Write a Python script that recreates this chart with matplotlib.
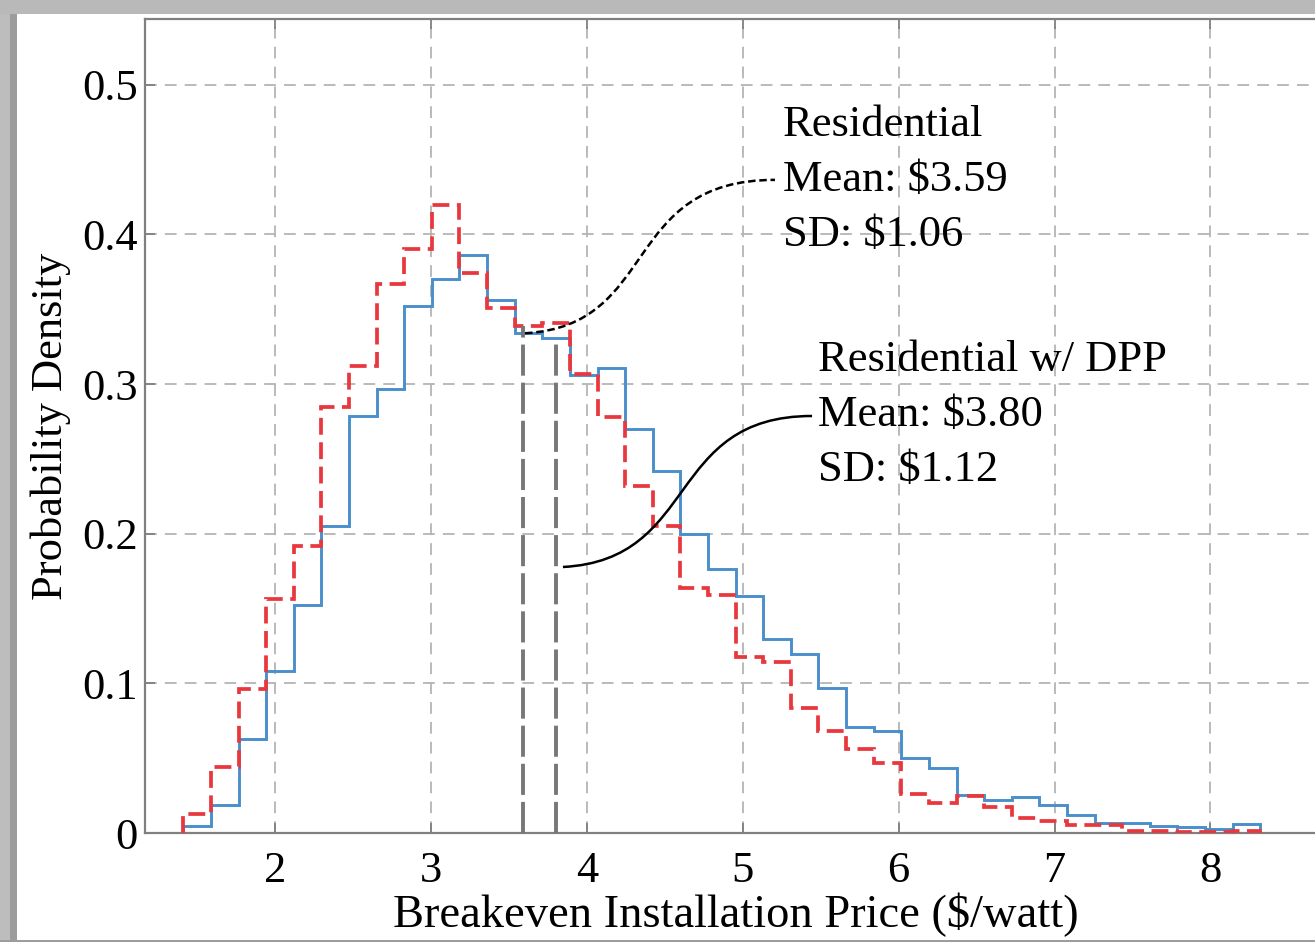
import numpy as np
import matplotlib
matplotlib.use("Agg")
from matplotlib import pyplot as plt
from matplotlib.path import Path
from matplotlib.patches import PathPatch, Rectangle

plt.rcParams['font.family'] = ['Liberation Serif', 'DejaVu Serif']

# histogram bins ($/watt)
bin_lo = 1.412
bin_hi = 8.32
n_bins = 39

# probability density per bin
res_density = [0.0125, 0.0444, 0.0961, 0.1565, 0.192, 0.2845, 0.312, 0.3672, 0.39,
               0.4196, 0.3744, 0.351, 0.3387, 0.341, 0.3068, 0.2778, 0.2316, 0.2049,
               0.1637, 0.1592, 0.1179, 0.114, 0.0836, 0.0682, 0.0561, 0.0466, 0.0263,
               0.0203, 0.0247, 0.0176, 0.0098, 0.008, 0.0054, 0.0054, 0.0016, 0.0016,
               0.001, 0.0004, 0.0016]
dpp_density = [0.005, 0.019, 0.063, 0.1086, 0.1525, 0.205, 0.2785, 0.297, 0.352,
               0.3704, 0.3866, 0.3565, 0.334, 0.331, 0.3064, 0.3108, 0.2702, 0.2417,
               0.1998, 0.1766, 0.1587, 0.1296, 0.1197, 0.097, 0.0711, 0.0684, 0.05,
               0.0437, 0.0254, 0.0221, 0.0243, 0.0187, 0.012, 0.0069, 0.0065, 0.0049,
               0.0038, 0.0027, 0.0062]

means = [3.59, 3.80]
sds = [1.06, 1.12]
mean_line_top = [0.339, 0.331]
names = ['Residential', 'Residential w/ DPP']

x_ticks = [2, 3, 4, 5, 6, 7, 8]
y_ticks = [0, 0.1, 0.2, 0.3, 0.4, 0.5]
y_ticklabels = ['0', '0.1', '0.2', '0.3', '0.4', '0.5']

edges = np.linspace(bin_lo, bin_hi, n_bins + 1)

fig = plt.figure(figsize=(13.15, 9.42), dpi=100)
ax = fig.add_axes([0.1103, 0.1157, 0.8979, 0.8641])

grid_ls = (0, (6.5, 4.5))
ax.grid(True, color='#b4b4b4', linestyle=grid_ls, linewidth=1.3)
ax.set_axisbelow(True)

ax.stairs(dpp_density, edges, baseline=0, color='#4a8fcb', linewidth=2.1, zorder=3)
ax.stairs(res_density, edges, baseline=0, color='#e8383d', linewidth=2.7,
          linestyle=(0, (4.5, 2)), zorder=4)

# mean lines
ax.vlines(means, 0, mean_line_top, colors='#777777', linewidth=2.8,
          linestyles=[(0, (8, 1.8))], zorder=5)

# S-shaped leader curves to the text boxes
def s_curve(p0, p1, p2, p3, **kw):
    verts = [p0, p1, p2, p3]
    codes = [Path.MOVETO, Path.CURVE4, Path.CURVE4, Path.CURVE4]
    ax.add_patch(PathPatch(Path(verts, codes), fill=False, **kw))

s_curve((3.604, 0.334), (4.471, 0.339), (4.214, 0.4365), (5.207, 0.4365),
        edgecolor='black', linewidth=1.8, linestyle=(0, (3, 1.5)), zorder=6)
s_curve((3.847, 0.1778), (4.726, 0.1825), (4.502, 0.2787), (5.445, 0.2787),
        edgecolor='black', linewidth=1.8, zorder=6)

ax.text(5.259, 0.4365, '%s\nMean: $%.2f\nSD: $%.2f' % (names[0], means[0], sds[0]),
        fontsize=32, ha='left', va='center', linespacing=1.49)
ax.text(5.483, 0.2794, '%s\nMean: $%.2f\nSD: $%.2f' % (names[1], means[1], sds[1]),
        fontsize=32, ha='left', va='center', linespacing=1.49)

ax.set_xlim(1.1667, 8.74)
ax.set_ylim(0, 0.544)
ax.set_xticks(x_ticks)
ax.set_yticks(y_ticks)
ax.set_yticklabels(y_ticklabels)
ax.tick_params(direction='in', length=7, width=1.3, color='#808080',
               labelsize=32, top=True, right=True)
ax.tick_params(axis='x', pad=13)
ax.tick_params(axis='y', pad=5)
for s in ax.spines.values():
    s.set_color('#808080')
    s.set_linewidth(1.6)

ax.set_xlabel('Breakeven Installation Price ($/watt)', fontsize=33.5, labelpad=1)
ax.set_ylabel('Probability Density', fontsize=32, labelpad=8)

# screenshot frame around the figure
fig.add_artist(Rectangle((0, 0), 10 / 1315, 1, transform=fig.transFigure,
                         facecolor='#bdbdbd', edgecolor='none'))
fig.add_artist(Rectangle((10 / 1315, 0), 7 / 1315, 1, transform=fig.transFigure,
                         facecolor='#9c9c9c', edgecolor='none'))
fig.add_artist(Rectangle((0, 1 - 14 / 942), 1, 14 / 942, transform=fig.transFigure,
                         facecolor='#b9b9b9', edgecolor='none'))
fig.add_artist(Rectangle((0, 0), 1, 2 / 942, transform=fig.transFigure,
                         facecolor='#9c9c9c', edgecolor='none'))

fig.savefig('out.png', dpi=100)
